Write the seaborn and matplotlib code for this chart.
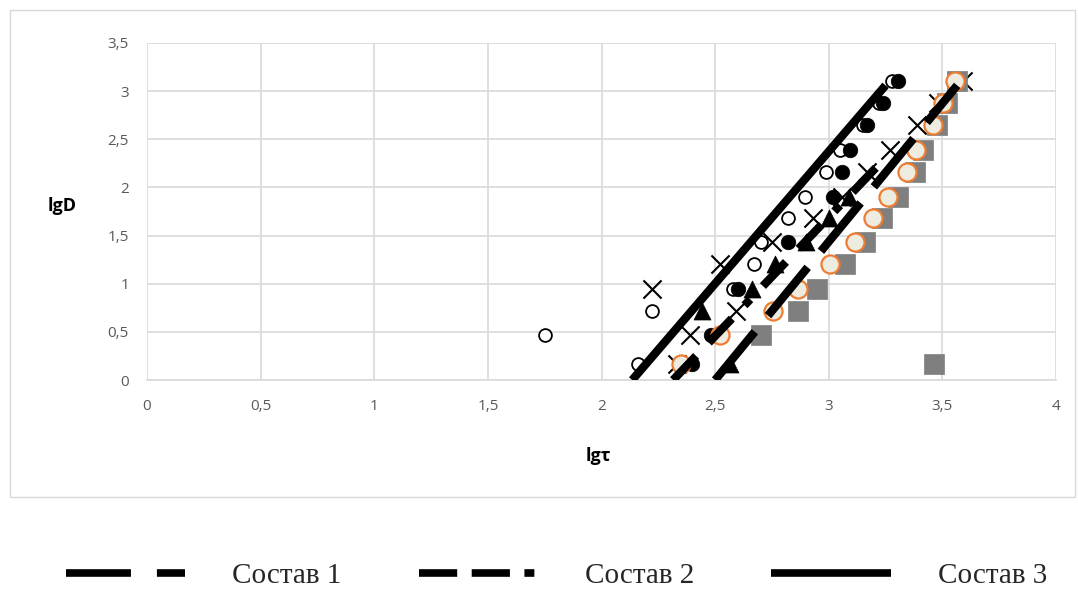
import numpy as np
import pandas as pd
import seaborn as sns
import matplotlib.pyplot as plt
from matplotlib.lines import Line2D
from matplotlib.patches import Rectangle
from matplotlib.ticker import FuncFormatter, MultipleLocator

# lgD levels shared by most series
lgD = [0.17, 0.47, 0.72, 0.95, 1.2, 1.43, 1.68, 1.9, 2.16, 2.39, 2.65, 2.88, 3.11]

# marker series (lgτ values)
open_circ_x = [2.16, 1.75, 2.22, 2.58, 2.67, 2.70, 2.82, 2.895, 2.99, 3.05, 3.15, 3.22, 3.28]
open_circ_y = lgD
fill_circ_x = [2.40, 2.48, 2.60, 2.82, 3.02, 3.06, 3.094, 3.17, 3.24, 3.305]
fill_circ_y = [0.17, 0.47, 0.95, 1.43, 1.9, 2.16, 2.39, 2.65, 2.88, 3.11]
tri_x = [2.566, 2.44, 2.66, 2.765, 2.90, 3.0, 3.09]
tri_y = [0.17, 0.72, 0.95, 1.2, 1.43, 1.68, 1.9]
cross_x = [2.33, 2.39, 2.59, 2.22, 2.52, 2.75, 2.93, 3.06, 3.17, 3.27, 3.39, 3.48, 3.59]
cross_y = lgD
square_x = [3.464, 2.70, 2.865, 2.95, 3.07, 3.16, 3.235, 3.305, 3.38, 3.415, 3.477, 3.52, 3.565]
square_y = lgD
orange_x = [2.35, 2.52, 2.755, 2.865, 3.006, 3.116, 3.196, 3.26, 3.345, 3.385, 3.46, 3.504, 3.556]
orange_y = lgD

# trend lines (end points)
sost1_x = [2.50, 3.565]
sost1_y = [0.0, 3.06]
sost2_x = [2.315, 3.226]
sost2_y = [0.0, 2.25]
sost3_x = [2.135, 3.25]
sost3_y = [0.0, 3.06]

legend_labels = ['Состав 1', 'Состав 2', 'Состав 3']

sns.set_style('white')
plt.rcParams['font.family'] = ['Open Sans', 'DejaVu Sans']

fig = plt.figure(figsize=(10.78, 5.89), dpi=100)
ax = fig.add_axes([0.1364, 0.3548, 0.8432, 0.5722])

# outer chart frame
fig.add_artist(Rectangle((0.0093, 0.156), 0.988, 0.827, transform=fig.transFigure,
                         fill=False, edgecolor='#D9D9D9', linewidth=1))

# markers
sns.scatterplot(x=open_circ_x, y=open_circ_y, ax=ax, marker='o', s=85,
                facecolor='white', edgecolor='black', linewidth=1.3, zorder=3)
sns.scatterplot(x=fill_circ_x, y=fill_circ_y, ax=ax, marker='o', s=110,
                color='black', edgecolor='black', linewidth=0.5, zorder=3)
sns.scatterplot(x=tri_x, y=tri_y, ax=ax, marker='^', s=150,
                color='black', edgecolor='black', linewidth=0.5, zorder=3)
sns.scatterplot(x=cross_x, y=cross_y, ax=ax, marker='x', s=170,
                color='black', linewidth=1.5, zorder=3)
sns.scatterplot(x=square_x, y=square_y, ax=ax, marker='s', s=200,
                color='#7F7F7F', edgecolor='#7F7F7F', linewidth=0.5, zorder=3)
sns.scatterplot(x=orange_x, y=orange_y, ax=ax, marker='o', s=170,
                facecolor='#EEECE1', edgecolor='#ED7D31', linewidth=1.6, zorder=3)

# lines
style1 = (0, (7.5, 2.5))
style2 = (0, (4, 2.2, 4, 2.2, 1, 2.2))
style3 = '-'
for xs, ys, ls in [(sost1_x, sost1_y, style1), (sost2_x, sost2_y, style2),
                   (sost3_x, sost3_y, style3)]:
    sns.lineplot(x=xs, y=ys, ax=ax, color='black', linewidth=6, zorder=4)
    ax.lines[-1].set_linestyle(ls)
    ax.lines[-1].set_solid_capstyle('butt')
    ax.lines[-1].set_dash_capstyle('butt')

ax.set_xlim(0, 4)
ax.set_ylim(0, 3.5)
ax.xaxis.set_major_locator(MultipleLocator(0.5))
ax.yaxis.set_major_locator(MultipleLocator(0.5))
fmt = FuncFormatter(lambda v, p: ('%g' % v).replace('.', ','))
ax.xaxis.set_major_formatter(fmt)
ax.yaxis.set_major_formatter(fmt)
ax.grid(True, color='#D9D9D9', linewidth=1.2)
ax.set_axisbelow(True)
for s in ['top', 'right', 'left']:
    ax.spines[s].set_visible(False)
ax.spines['bottom'].set_color('#D9D9D9')
ax.spines['bottom'].set_linewidth(1.2)
ax.tick_params(axis='both', length=0, labelsize=11, labelcolor='#595959')
ax.tick_params(axis='x', pad=14)
ax.tick_params(axis='y', pad=13)

ax.set_xlabel('lgτ', fontsize=13, fontweight='bold', color='black')
ax.set_ylabel('lgD', fontsize=13, fontweight='bold', color='black', rotation=0)
ax.xaxis.set_label_coords(0.496, -0.199)
ax.yaxis.set_label_coords(-0.0935, 0.49)

# legend
handles = [Line2D([], [], color='black', linewidth=5.5, linestyle=(0, (8.5, 3.4))),
           Line2D([], [], color='black', linewidth=5.5, linestyle=(0, (5.0, 1.9, 5.0, 1.9, 1.3, 1.9))),
           Line2D([], [], color='black', linewidth=5.5, linestyle='-')]
for h in handles:
    h.set_dash_capstyle('butt')
    h.set_solid_capstyle('butt')
fig.legend(handles, legend_labels, loc='lower center', bbox_to_anchor=(0.516, -0.045),
           ncol=3, frameon=False, handlelength=4.1, handletextpad=1.6, columnspacing=2.65,
           prop={'family': 'Liberation Serif', 'size': 21})

fig.savefig('out.png', dpi=100)
